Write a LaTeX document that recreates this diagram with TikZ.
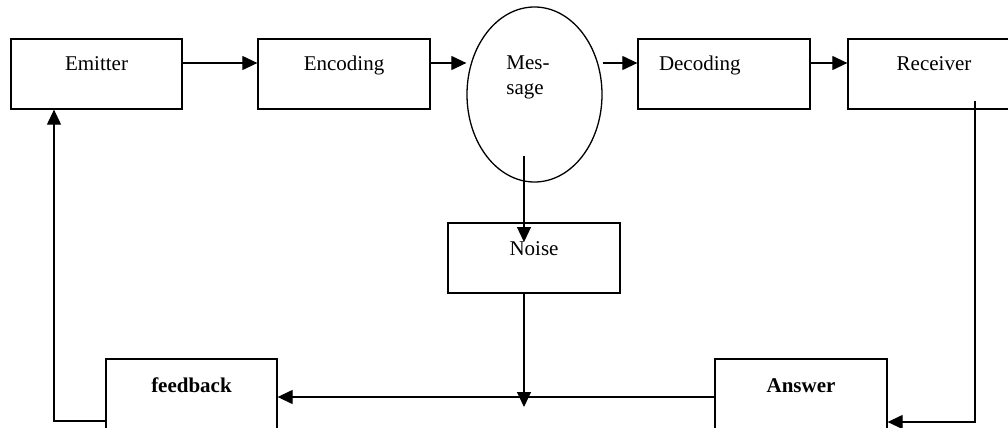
\documentclass[tikz,border=0pt]{standalone}
\usepackage{fontspec}
\setmainfont{Liberation Serif}
\usetikzlibrary{arrows.meta,shapes.geometric}
\tikzset{
  box/.style={draw, line width=0.65pt, rectangle, inner sep=0pt,
    minimum width=86pt, minimum height=35pt, text height=15.5pt, text depth=19.5pt,
    font=\fontsize{10.5}{12.5}\selectfont},
  lowbox/.style={box, text height=16.5pt, text depth=18.5pt, font=\fontsize{10.5}{12.5}\selectfont\bfseries},
  arr/.style={-{Triangle[length=7.5pt,width=7pt]}, line width=0.6pt},
}
\begin{document}
\begin{tikzpicture}[x=0.5pt,y=-0.5pt]
\useasboundingbox (0,0) rectangle (1008,428);
\fill[white] (0,0) rectangle (1008,428);
\clip (0,0) rectangle (1008,428);
% top row
\node[box, minimum width=85.5pt] (emitter) at (96.5,74) {Emitter};
\node[box] (encoding) at (344,74) {Encoding};
\node[draw, ellipse, line width=0.65pt, inner sep=0pt, minimum width=67.5pt, minimum height=87.5pt] (msg) at (534.5,94.5) {};
\node[anchor=north west, align=left, inner sep=0pt, font=\fontsize{10.5}{12.5}\selectfont] (msgtext) at (506,55) {Mes-\\sage};
\node[box, text width=65pt, inner xsep=10.5pt, align=left] (decoding) at (724,74) {Decoding};
\node[box] (receiver) at (934,74) {Receiver};
% middle
\node[box, text height=16pt, text depth=19pt] (noise) at (534,258) {Noise};
% bottom row
\node[lowbox, minimum width=85.5pt] (feedback) at (191.5,394) {feedback};
\node[lowbox] (answer) at (801,394) {Answer};
% helper coordinates
\coordinate (row) at (0,63);
\coordinate (mtail) at (524,156);
\coordinate (ntip) at (524,242);
\coordinate (join) at (524,407);
\coordinate (fbrow) at (0,397);
\coordinate (rtail) at (975,101);
\coordinate (rcorner) at (975,422);
\coordinate (lcorner) at (54,421);
% connectors
\draw[arr] (emitter.east |- row) -- (encoding.west |- row);
\draw[arr] (encoding.east |- row) -- (msg.west |- row);
\draw[arr] (msg.east |- row) -- (decoding.west |- row);
\draw[arr] (decoding.east |- row) -- (receiver.west |- row);
\draw[arr] (mtail) -- (ntip);
\draw[arr] (noise.south -| mtail) -- (join);
\draw[arr] (answer.west |- fbrow) -- (feedback.east |- fbrow);
\draw[arr] (rtail) -- (rcorner) -- (answer.east |- rcorner);
\draw[arr] (feedback.west |- lcorner) -- (lcorner) -- (emitter.south -| lcorner);
\end{tikzpicture}
\end{document}
